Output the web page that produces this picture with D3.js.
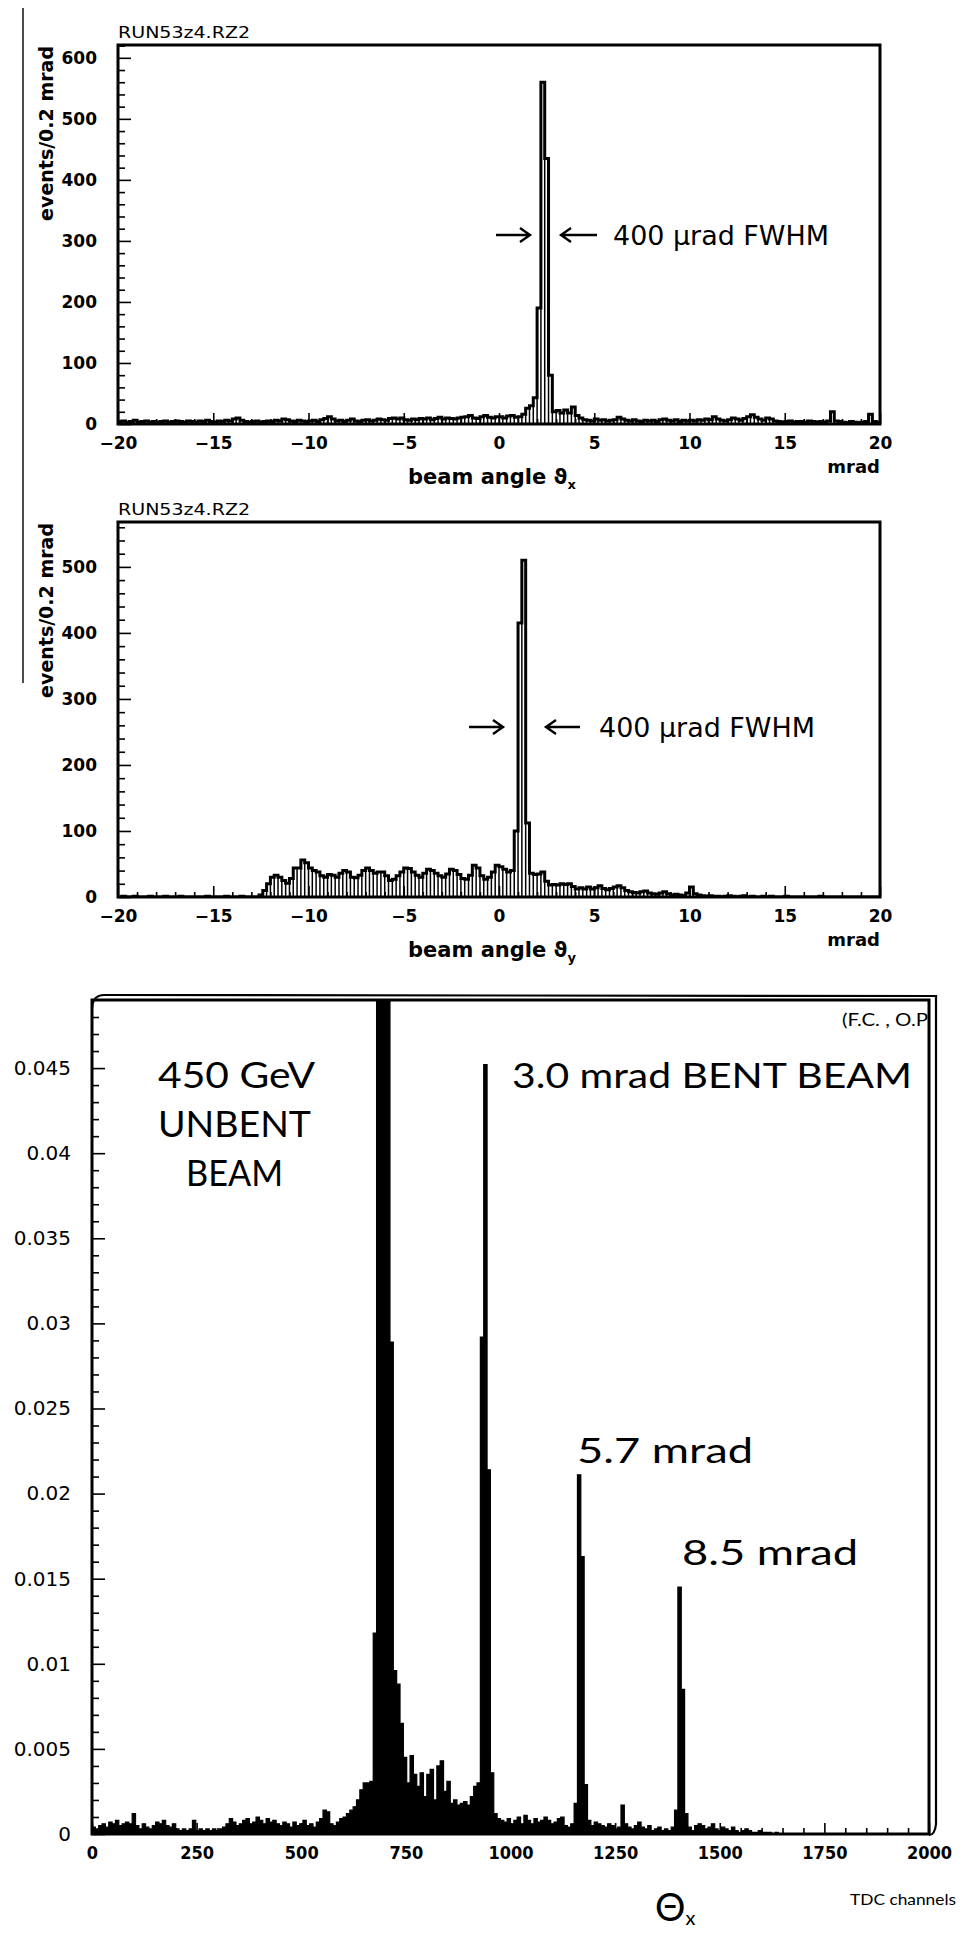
<!DOCTYPE html>
<html>
<head>
<meta charset="utf-8">
<script src="https://cdn.jsdelivr.net/npm/d3@7"></script>
<style>
body { margin: 0; background: #fff; }
svg { display: block; }
</style>
</head>
<body>
<script>
// beam angle histograms: 200 bins of 0.2 mrad from -20 to +20 mrad
var angleStart = -20, angleBin = 0.2;

var thetaXCounts = [
  4,5,3,4,6,3,4,5,3,4,   3,4,5,3,4,5,4,3,5,4,
  3,5,4,6,4,3,5,4,6,5,   8,10,6,4,3,4,5,3,4,5,
  4,6,5,8,7,5,4,6,5,4,   5,6,4,7,9,12,8,5,6,4,
  6,8,5,4,6,7,5,6,8,7,   6,9,10,8,10,7,6,8,7,9,
  8,10,7,9,11,8,10,9,8,10, 11,12,14,10,9,12,14,11,10,12,
  12,10,13,14,11,12,16,26,30,43, 190,560,435,80,20,22,18,23,18,28,
  14,10,7,6,5,8,6,7,5,6, 7,11,8,6,5,7,5,4,6,5,
  6,4,7,8,6,5,7,4,6,5,   6,5,7,6,8,7,12,8,6,5,
  7,10,8,6,9,12,15,11,8,6, 10,8,5,4,3,4,5,3,4,4,
  3,5,4,3,4,3,5,20,5,4,  3,2,4,3,2,3,4,16,4,3
];

var thetaYCounts = [
  0,1,0,0,1,0,0,0,1,0,   0,0,1,0,0,0,1,0,0,0,
  0,0,0,1,0,0,0,0,1,0,   0,0,1,0,0,0,0,3,10,20,
  30,33,30,25,21,28,44,44,56,52, 44,40,38,32,30,34,33,30,36,40,
  38,30,29,33,40,44,40,36,38,38, 32,25,27,32,38,44,43,38,33,30,
  36,42,40,36,32,30,35,42,40,34, 28,27,33,48,44,32,27,30,38,48,
  46,42,38,40,100,415,510,112,36,34, 35,38,24,18,19,18,20,19,20,16,
  12,14,12,15,12,14,17,13,11,13, 15,17,14,10,8,7,6,8,9,6,
  5,4,6,8,5,3,4,3,2,6,   15,5,3,2,1,2,1,1,0,1,
  2,1,0,1,2,0,1,0,0,1,   0,1,0,0,0,1,0,0,0,0,
  0,0,0,0,1,0,0,0,0,0,   0,0,0,0,0,0,0,0,0,0
];

// TDC histogram: 250 bins of 8 channels, values in units of 1e-4
var tdcBin = 8;
var tdcValues = [
  4,3,5,6,4,7,6,8,5,6,        7,6,12,5,3,6,4,3,5,7,
  6,8,5,4,6,3,2,3,2,3,        8,2,3,2,3,2,3,2,3,4,
  6,9,7,5,6,8,9,6,7,10,       8,6,9,7,8,6,5,7,6,4,
  7,5,6,8,5,6,4,7,9,14,       13,6,5,7,9,10,12,14,16,20,
  26,30,30,31,118,600,700,650,560,289, 96,88,65,45,30,46,35,28,36,22,
  35,38,20,40,43,25,31,18,20,17, 18,19,17,22,28,30,292,452,214,36,
  12,9,8,7,9,6,8,10,6,11,     8,6,9,7,8,10,8,6,7,9,
  10,5,4,6,18,211,163,29,8,5, 7,6,5,4,6,5,3,4,17,6,
  4,3,5,7,4,3,5,2,3,4,        2,3,2,4,14,145,85,12,4,2,
  5,6,5,3,4,6,3,2,4,3,        2,4,2,1,2,3,2,1,1,2,
  1,1,1,0,1,0,0,0,0,0,        0,0,0,0,0,0,0,0,0,0,
  0,0,0,0,0,0,0,0,0,0,        0,0,0,0,0,0,0,0,0,0,
  0,0,0,0,0,0,0,0,0,0
];

var angleTicks = [-20, -15, -10, -5, 0, 5, 10, 15, 20];
var countTicksX = [0, 100, 200, 300, 400, 500, 600];
var countTicksY = [0, 100, 200, 300, 400, 500];
var tdcTicks = [0, 250, 500, 750, 1000, 1250, 1500, 1750, 2000];
var fracTicks = [0, 0.005, 0.01, 0.015, 0.02, 0.025, 0.03, 0.035, 0.04, 0.045];
var fracLabels = ["0", "0.005", "0.01", "0.015", "0.02", "0.025", "0.03", "0.035", "0.04", "0.045"];

var W = 964, H = 1934;
var svg = d3.select("body").append("svg")
    .attr("width", W)
    .attr("height", H);

svg.append("rect").attr("width", W).attr("height", H).attr("fill", "#fff");

// scanner line on the left margin
svg.append("line")
    .attr("x1", 23).attr("x2", 23)
    .attr("y1", 8).attr("y2", 683)
    .attr("stroke", "#000").attr("stroke-width", 1.4);

var defs = svg.append("defs");

function styleAxis(g, size, weight, family) {
    g.select(".domain").remove();
    g.attr("font-family", null).attr("font-size", null);
    g.selectAll("line").attr("stroke", "#000").attr("stroke-width", 1.6);
    g.selectAll("text")
        .attr("fill", "#000")
        .style("font-size", size + "px")
        .style("font-weight", weight)
        .style("font-family", family);
}

function minusFmt(d) {
    return d < 0 ? "\u2212" + Math.abs(d) : String(d);
}

function arrowPair(g, yc, r0, r1, l0, l1) {
    g.append("path")
        .attr("d", "M" + r0 + "," + yc + "H" + (r1 - 1) + "M" + (r1 - 10) + "," + (yc - 7) + "L" + r1 + "," + yc + "L" + (r1 - 10) + "," + (yc + 7))
        .attr("fill", "none").attr("stroke", "#000").attr("stroke-width", 2.4);
    g.append("path")
        .attr("d", "M" + (l0 + 1) + "," + yc + "H" + l1 + "M" + (l0 + 10) + "," + (yc - 7) + "L" + l0 + "," + yc + "L" + (l0 + 10) + "," + (yc + 7))
        .attr("fill", "none").attr("stroke", "#000").attr("stroke-width", 2.4);
}

function anglePanel(id, counts, top, base, yMax, yTicks, sub, ann) {
    var x = d3.scaleLinear().domain([-20, 20]).range([118, 880]);
    var y = d3.scaleLinear().domain([0, yMax]).range([base, top]);
    var g = svg.append("g");

    defs.append("clipPath").attr("id", id)
        .append("rect")
        .attr("x", x(-20)).attr("y", top)
        .attr("width", x(20) - x(-20)).attr("height", base - top);

    var h = g.append("g").attr("clip-path", "url(#" + id + ")");

    // thin bin-edge lines (the hatched look)
    h.selectAll(".edge")
        .data(counts.slice(1))
        .enter()
        .append("line")
        .attr("class", "edge")
        .attr("x1", function(d, i) { return x(angleStart + (i + 1) * angleBin); })
        .attr("x2", function(d, i) { return x(angleStart + (i + 1) * angleBin); })
        .attr("y1", y(0))
        .attr("y2", function(d, i) { return y(Math.min(d, counts[i])); })
        .attr("stroke", "#000")
        .attr("stroke-width", 1.5);

    var pts = counts.map(function(d, i) { return [angleStart + i * angleBin, d]; });
    pts.push([20, counts[counts.length - 1]]);

    var outline = d3.line()
        .x(function(d) { return x(d[0]); })
        .y(function(d) { return y(d[1]); })
        .curve(d3.curveStepAfter);

    h.append("path")
        .attr("d", outline(pts))
        .attr("fill", "none")
        .attr("stroke", "#000")
        .attr("stroke-width", 3)
        .attr("stroke-linejoin", "miter");

    // frame
    g.append("rect")
        .attr("x", x(-20)).attr("y", top)
        .attr("width", x(20) - x(-20)).attr("height", base - top)
        .attr("fill", "none").attr("stroke", "#000").attr("stroke-width", 3);

    var minorY = d3.range(0, yMax, 20).filter(function(v) { return v % 100 !== 0; });
    var minorX = d3.range(-19, 20, 1).filter(function(v) { return v % 5 !== 0; });

    g.append("g").attr("transform", "translate(" + x(-20) + ",0)")
        .call(d3.axisRight(y).tickValues(yTicks).tickSize(13).tickFormat(""))
        .call(function(a) { styleAxis(a, 17, "bold", "DejaVu Sans"); });
    g.append("g").attr("transform", "translate(" + x(-20) + ",0)")
        .call(d3.axisRight(y).tickValues(minorY).tickSize(7).tickFormat(""))
        .call(function(a) { styleAxis(a, 17, "bold", "DejaVu Sans"); });
    g.append("g").attr("transform", "translate(" + x(-20) + ",0)")
        .call(d3.axisLeft(y).tickValues(yTicks).tickSize(0).tickPadding(21))
        .call(function(a) { styleAxis(a, 17, "bold", "DejaVu Sans"); });

    g.append("g").attr("transform", "translate(0," + base + ")")
        .call(d3.axisTop(x).tickValues(angleTicks).tickSize(11).tickFormat(""))
        .call(function(a) { styleAxis(a, 17, "bold", "DejaVu Sans"); });
    g.append("g").attr("transform", "translate(0," + base + ")")
        .call(d3.axisTop(x).tickValues(minorX).tickSize(5).tickFormat(""))
        .call(function(a) { styleAxis(a, 17, "bold", "DejaVu Sans"); });
    g.append("g").attr("transform", "translate(0," + base + ")")
        .call(d3.axisBottom(x).tickValues(angleTicks).tickSize(0).tickPadding(13).tickFormat(minusFmt))
        .call(function(a) { styleAxis(a, 17, "bold", "DejaVu Sans"); });

    g.append("text")
        .attr("x", x(-20)).attr("y", top - 7)
        .attr("textLength", 132).attr("lengthAdjust", "spacingAndGlyphs")
        .style("font-family", "DejaVu Sans").style("font-size", "16px")
        .text("RUN53z4.RZ2");

    g.append("text")
        .attr("transform", "translate(53," + (top + 1) + ") rotate(-90)")
        .attr("text-anchor", "end")
        .style("font-family", "DejaVu Sans").style("font-weight", "bold").style("font-size", "19px")
        .text("events/0.2 mrad");

    g.append("text")
        .attr("x", x(20)).attr("y", base + 49)
        .attr("text-anchor", "end")
        .style("font-family", "DejaVu Sans").style("font-weight", "bold").style("font-size", "18px")
        .text("mrad");

    var lab = g.append("text")
        .attr("x", 408).attr("y", base + 60)
        .style("font-family", "DejaVu Sans").style("font-weight", "bold").style("font-size", "21px");
    lab.append("tspan").text("beam angle \u03d1");
    lab.append("tspan").attr("dy", 5).style("font-size", "13px").text(sub);

    arrowPair(g, ann.yc, ann.r0, ann.r1, ann.l0, ann.l1);
    g.append("text")
        .attr("x", ann.tx).attr("y", ann.yc + 10)
        .attr("textLength", ann.tw).attr("lengthAdjust", "spacingAndGlyphs")
        .style("font-family", "DejaVu Sans").style("font-size", "26px")
        .text("400 \u03bcrad FWHM");
}

anglePanel("clipX", thetaXCounts, 45, 424, 621, countTicksX, "x",
    { yc: 235, r0: 496, r1: 530, l0: 561, l1: 597, tx: 613, tw: 216 });
anglePanel("clipY", thetaYCounts, 522, 897, 568, countTicksY, "y",
    { yc: 727, r0: 469, r1: 503, l0: 546, l1: 580, tx: 599, tw: 216 });

// ---- TDC panel ----
var tx = d3.scaleLinear().domain([0, 2000]).range([92, 929]);
var ty = d3.scaleLinear().domain([0, 0.049]).range([1834, 1000]);
var tg = svg.append("g");

defs.append("clipPath").attr("id", "clipT")
    .append("rect")
    .attr("x", tx(0)).attr("y", ty(0.049))
    .attr("width", tx(2000) - tx(0)).attr("height", ty(0) - ty(0.049));

var tpts = tdcValues.map(function(d, i) { return [i * tdcBin, d * 1e-4]; });
tpts.push([tdcValues.length * tdcBin, 0]);

var tArea = d3.area()
    .x(function(d) { return tx(d[0]); })
    .y0(ty(0))
    .y1(function(d) { return ty(d[1]); })
    .curve(d3.curveStepAfter);

tg.append("path")
    .attr("clip-path", "url(#clipT)")
    .attr("d", tArea(tpts))
    .attr("fill", "#000")
    .attr("stroke", "#000")
    .attr("stroke-width", 1.2);

tg.append("rect")
    .attr("x", tx(0)).attr("y", ty(0.049))
    .attr("width", tx(2000) - tx(0)).attr("height", ty(0) - ty(0.049))
    .attr("fill", "none").attr("stroke", "#000").attr("stroke-width", 3);

// second, slightly offset outline of the frame (top and right)
tg.append("path")
    .attr("d", "M" + tx(0) + "," + (ty(0.049) + 8) + "Q" + (tx(0) + 1) + "," + (ty(0.049) - 5) + " " + (tx(0) + 12) + "," + (ty(0.049) - 5) +
        "L" + (tx(2000) + 7) + "," + (ty(0.049) - 4) + "L" + (tx(2000) + 7) + "," + (ty(0) - 10) +
        "Q" + (tx(2000) + 6) + "," + (ty(0) + 1) + " " + tx(2000) + "," + (ty(0) + 1))
    .attr("fill", "none").attr("stroke", "#000").attr("stroke-width", 2.2);

var minorF = d3.range(0.001, 0.049, 0.001).filter(function(v) { return Math.round(v * 1000) % 5 !== 0; });
var minorT = d3.range(50, 2000, 50).filter(function(v) { return v % 250 !== 0; });

tg.append("g").attr("transform", "translate(" + tx(0) + ",0)")
    .call(d3.axisRight(ty).tickValues(fracTicks).tickSize(13).tickFormat(""))
    .call(function(a) { styleAxis(a, 20, "normal", "DejaVu Sans"); });
tg.append("g").attr("transform", "translate(" + tx(0) + ",0)")
    .call(d3.axisRight(ty).tickValues(minorF).tickSize(7).tickFormat(""))
    .call(function(a) { styleAxis(a, 20, "normal", "DejaVu Sans"); });
tg.append("g").attr("transform", "translate(" + tx(0) + ",0)")
    .call(d3.axisLeft(ty).tickValues(fracTicks).tickSize(0).tickPadding(21)
        .tickFormat(function(d, i) { return fracLabels[i]; }))
    .call(function(a) { styleAxis(a, 20, "normal", "DejaVu Sans"); });

tg.append("g").attr("transform", "translate(0," + ty(0) + ")")
    .call(d3.axisTop(tx).tickValues(tdcTicks).tickSize(11).tickFormat(""))
    .call(function(a) { styleAxis(a, 18, "bold", "DejaVu Sans"); });
tg.append("g").attr("transform", "translate(0," + ty(0) + ")")
    .call(d3.axisTop(tx).tickValues(minorT).tickSize(6).tickFormat(""))
    .call(function(a) { styleAxis(a, 18, "bold", "DejaVu Sans"); });
tg.append("g").attr("transform", "translate(0," + ty(0) + ")")
    .call(d3.axisBottom(tx).tickValues(tdcTicks).tickSize(0).tickPadding(12).tickFormat(d3.format("d")))
    .call(function(a) { styleAxis(a, 18, "bold", "DejaVu Sans Condensed"); });

function thinText(x, y, str, size, width, anchor) {
    return tg.append("text")
        .attr("x", x).attr("y", y)
        .attr("text-anchor", anchor || "start")
        .attr("textLength", width).attr("lengthAdjust", "spacingAndGlyphs")
        .style("font-family", "Lato, 'DejaVu Sans'")
        .style("font-weight", 400)
        .style("font-size", size + "px")
        .text(str);
}

thinText(158, 1088, "450 GeV", 37, 157);
thinText(158, 1137, "UNBENT", 37, 153);
thinText(186, 1186, "BEAM", 37, 97);
thinText(512, 1088, "3.0 mrad BENT BEAM", 35, 400);
thinText(842, 1026, "(F.C. , O.P", 17, 86);
thinText(577, 1463, "5.7 mrad", 35, 176);
thinText(682, 1565, "8.5 mrad", 35, 176);
thinText(850, 1905, "TDC channels", 16, 106);

var th = tg.append("text")
    .attr("x", 655).attr("y", 1921)
    .style("font-family", "Lato, 'DejaVu Sans'")
    .style("font-weight", 400)
    .style("font-size", "38px");
th.append("tspan").text("\u0398");
th.append("tspan").attr("dy", 4).style("font-size", "20px").text("x");
</script>
</body>
</html>
